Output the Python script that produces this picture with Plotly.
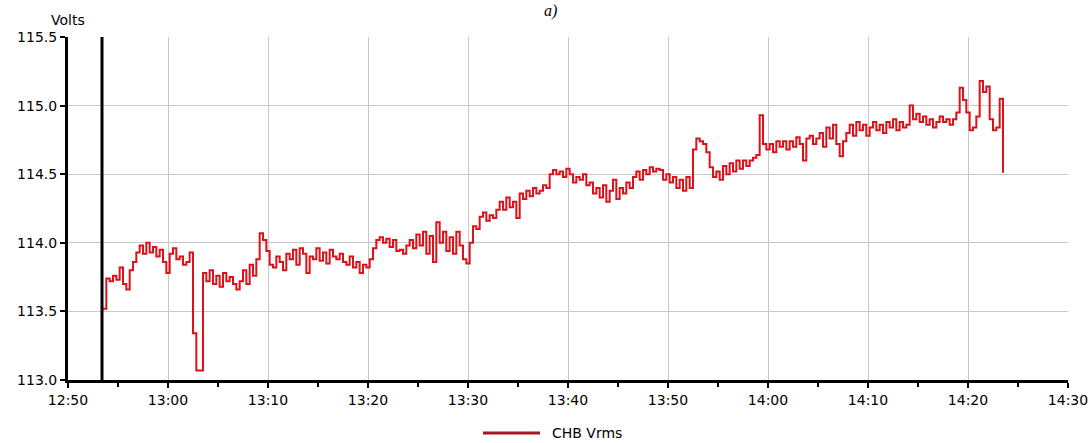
import plotly.graph_objects as go
import pandas as pd

# ---- data ----
start_time = "2020-01-01 12:53:30"
step_seconds = 20
vrms = [
    113.52, 113.74,
    113.72, 113.76, 113.73,   # 12:54
    113.82, 113.70, 113.66,   # 12:55
    113.80, 113.86, 113.93,   # 12:56
    113.98, 113.92, 114.00,   # 12:57
    113.93, 113.97, 113.90,   # 12:58
    113.95, 113.86, 113.78,   # 12:59
    113.92, 113.96, 113.88,   # 13:00
    113.90, 113.84, 113.86,   # 13:01
    113.93, 113.34, 113.07,   # 13:02
    113.07, 113.78, 113.72,   # 13:03
    113.80, 113.70, 113.76,   # 13:04
    113.68, 113.78, 113.72,   # 13:05
    113.75, 113.70, 113.66,   # 13:06
    113.72, 113.80, 113.70,   # 13:07
    113.84, 113.76, 113.88,   # 13:08
    114.07, 114.02, 113.94,   # 13:09
    113.84, 113.82, 113.90,   # 13:10
    113.86, 113.80, 113.92,   # 13:11
    113.88, 113.95, 113.84,   # 13:12
    113.96, 113.92, 113.78,   # 13:13
    113.90, 113.88, 113.96,   # 13:14
    113.87, 113.93, 113.85,   # 13:15
    113.95, 113.90, 113.88,   # 13:16
    113.92, 113.86, 113.84,   # 13:17
    113.90, 113.82, 113.86,   # 13:18
    113.78, 113.84, 113.82,   # 13:19
    113.88, 113.96, 114.02,   # 13:20
    114.04, 114.00, 114.03,   # 13:21
    113.97, 114.02, 113.94,   # 13:22
    113.95, 113.92, 113.98,   # 13:23
    114.02, 113.96, 114.06,   # 13:24
    113.98, 114.08, 113.92,   # 13:25
    114.05, 113.86, 114.15,   # 13:26
    114.00, 114.08, 113.94,   # 13:27
    114.04, 113.92, 114.08,   # 13:28
    113.98, 113.88, 113.85,   # 13:29
    114.00, 114.12, 114.10,   # 13:30
    114.19, 114.22, 114.16,   # 13:31
    114.20, 114.18, 114.24,   # 13:32
    114.30, 114.24, 114.33,   # 13:33
    114.26, 114.30, 114.18,   # 13:34
    114.36, 114.32, 114.38,   # 13:35
    114.34, 114.40, 114.36,   # 13:36
    114.38, 114.42, 114.40,   # 13:37
    114.50, 114.53, 114.50,   # 13:38
    114.52, 114.48, 114.54,   # 13:39
    114.50, 114.44, 114.48,   # 13:40
    114.46, 114.50, 114.42,   # 13:41
    114.44, 114.36, 114.40,   # 13:42
    114.33, 114.42, 114.30,   # 13:43
    114.38, 114.46, 114.32,   # 13:44
    114.40, 114.36, 114.44,   # 13:45
    114.40, 114.48, 114.52,   # 13:46
    114.46, 114.53, 114.50,   # 13:47
    114.55, 114.52, 114.54,   # 13:48
    114.53, 114.46, 114.50,   # 13:49
    114.44, 114.48, 114.40,   # 13:50
    114.46, 114.38, 114.48,   # 13:51
    114.40, 114.68, 114.76,   # 13:52
    114.74, 114.72, 114.66,   # 13:53
    114.55, 114.48, 114.52,   # 13:54
    114.46, 114.56, 114.50,   # 13:55
    114.58, 114.52, 114.60,   # 13:56
    114.54, 114.60, 114.56,   # 13:57
    114.60, 114.62, 114.64,   # 13:58
    114.93, 114.72, 114.68,   # 13:59
    114.72, 114.66, 114.74,   # 14:00
    114.70, 114.74, 114.68,   # 14:01
    114.74, 114.70, 114.77,   # 14:02
    114.72, 114.60, 114.76,   # 14:03
    114.78, 114.72, 114.76,   # 14:04
    114.80, 114.70, 114.84,   # 14:05
    114.76, 114.86, 114.72,   # 14:06
    114.63, 114.74, 114.80,   # 14:07
    114.86, 114.78, 114.88,   # 14:08
    114.82, 114.86, 114.78,   # 14:09
    114.84, 114.88, 114.82,   # 14:10
    114.86, 114.80, 114.88,   # 14:11
    114.84, 114.90, 114.82,   # 14:12
    114.88, 114.84, 114.86,   # 14:13
    115.00, 114.90, 114.94,   # 14:14
    114.88, 114.92, 114.86,   # 14:15
    114.90, 114.84, 114.88,   # 14:16
    114.92, 114.88, 114.90,   # 14:17
    114.86, 114.90, 114.95,   # 14:18
    115.13, 115.04, 114.95,   # 14:19
    114.82, 114.84, 114.92,   # 14:20
    115.18, 115.10, 115.14,   # 14:21
    114.90, 114.82, 114.84,   # 14:22
    115.05, 114.51,           # 14:23
]
series_name = "CHB Vrms"
cursor_time = "2020-01-01 12:53:24"
x_range = ["2020-01-01 12:50", "2020-01-01 14:30"]
y_range = [113.0, 115.5]

times = pd.date_range(start=start_time, periods=len(vrms), freq=f"{step_seconds}s")

# ---- figure ----
FONT = "DejaVu Sans"
RED = "rgb(222,16,24)"

W, H = 1090, 443
L, R, T, B = 68, 22, 37, 63
pw, ph = W - L - R, H - T - B

def px_x(px):
    return (px - L) / pw

def px_y(py):
    return (H - B - py) / ph

fig = go.Figure()
fig.add_trace(go.Scatter(
    x=times, y=vrms, mode="lines", name=series_name,
    line=dict(color=RED, width=2, shape="hv"),
    showlegend=False,
))
# cursor marker at top
fig.add_trace(go.Scatter(
    x=[pd.Timestamp(cursor_time)], y=[y_range[1] + 0.035], mode="markers",
    marker=dict(symbol="triangle-down", size=7, color="#555555"),
    cliponaxis=False, showlegend=False, hoverinfo="skip",
))
fig.add_shape(type="line", xref="x", yref="y",
              x0=cursor_time, x1=cursor_time, y0=y_range[0], y1=y_range[1],
              line=dict(color="black", width=3))

# custom legend (line + text) below the axis
fig.add_shape(type="line", xref="paper", yref="paper",
              x0=px_x(483), x1=px_x(540), y0=px_y(433), y1=px_y(433),
              line=dict(color="rgb(170,20,35)", width=3))
fig.add_annotation(x=px_x(550), y=px_y(433), xref="paper", yref="paper",
                   text=series_name, showarrow=False, xanchor="left", yanchor="middle",
                   font=dict(family=FONT, size=14, color="black"))
fig.add_annotation(x=px_x(68), y=px_y(20), xref="paper", yref="paper",
                   text="Volts", showarrow=False, xanchor="center", yanchor="middle",
                   font=dict(family=FONT, size=14, color="black"))
fig.add_annotation(x=px_x(550), y=px_y(0), xref="paper", yref="paper",
                   text="<i>a)</i>", showarrow=False, xanchor="center", yanchor="top",
                   font=dict(family="Liberation Serif", size=16, color="black"))

fig.update_layout(
    width=W, height=H,
    margin=dict(l=L, r=R, t=T, b=B, autoexpand=False),
    paper_bgcolor="white", plot_bgcolor="white",
    font=dict(family=FONT, size=14, color="black"),
    showlegend=False,
)
fig.update_xaxes(
    type="date", range=x_range, automargin=False,
    tick0=x_range[0], dtick=600000, tickformat="%H:%M",
    showgrid=True, gridcolor="rgb(200,200,200)", gridwidth=1,
    showline=True, linecolor="black", linewidth=3,
    ticks="outside", ticklen=5, tickwidth=2, tickcolor="black",
    minor=dict(dtick=300000, tick0=x_range[0], ticks="outside", ticklen=4,
               tickwidth=2, tickcolor="black", showgrid=False),
    zeroline=False,
)
fig.update_yaxes(
    range=y_range, dtick=0.5, tickformat=".1f", automargin=False,
    showgrid=True, gridcolor="rgb(200,200,200)", gridwidth=1,
    showline=True, linecolor="black", linewidth=3,
    ticks="outside", ticklen=5, tickwidth=2, tickcolor="black",
    zeroline=False,
)

fig.write_html(
    "out.html",
    config={"displayModeBar": False},
    post_script="document.body.style.margin='0';document.body.style.overflow='hidden';",
)
